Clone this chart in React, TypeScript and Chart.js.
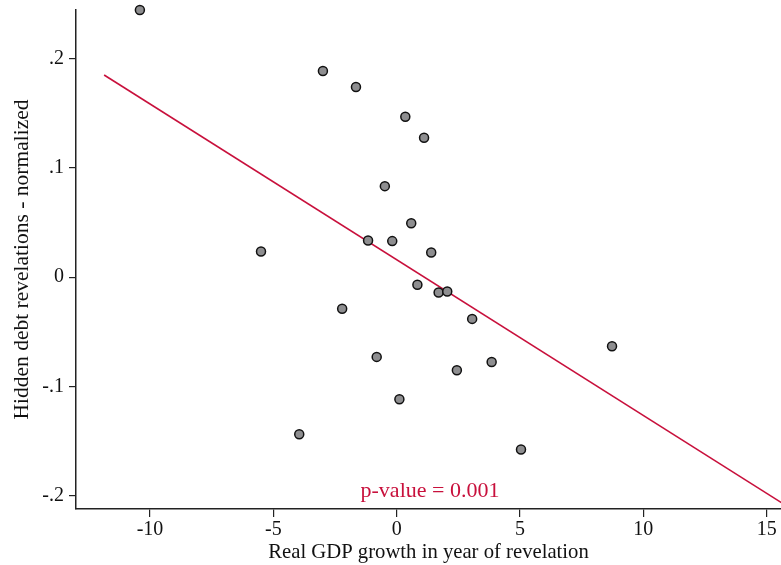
import React, { useEffect, useRef } from "react";
import { Chart, registerables } from "chart.js";

Chart.register(...registerables);

const gdpGrowth = [-10.41, -2.99, -1.65, 0.35, 1.11, -0.48, 0.59, -1.16, -0.18, 1.40, -5.50, 0.84, 1.70, 2.05, 3.06, -2.21, -0.81, 2.44, 3.85, 0.11, -3.95, 5.04, 8.73];
const hiddenDebt = [0.2445, 0.1886, 0.1740, 0.1468, 0.1275, 0.0833, 0.0494, 0.0336, 0.0330, 0.0226, 0.0235, -0.0070, -0.0140, -0.0131, -0.0382, -0.0290, -0.0730, -0.0852, -0.0776, -0.1117, -0.1438, -0.1578, -0.0632];
const fitX = [-11.86, 15.6];
const fitY = [0.185, -0.2064];
const xTicks = [-10, -5, 0, 5, 10, 15];
const yTicks = [-0.2, -0.1, 0, 0.1, 0.2];
const yTickLabels = ["-.2", "-.1", "0", ".1", ".2"];
const annotationText = "p-value = 0.001";
const annotationPos = { x: 1.35, y: -0.196 };

const FONT = "'Liberation Serif', 'Times New Roman', serif";
const RED = "#c8103c";

export default function App() {
  const ref = useRef<HTMLCanvasElement | null>(null);
  useEffect(() => {
    document.body.style.margin = "0";
    const ctx = ref.current!;
    const annot = {
      id: "annot",
      afterDatasetsDraw(chart: any) {
        const c = chart.ctx;
        const xs = chart.scales.x;
        const ys = chart.scales.y;
        c.save();
        c.font = `22px ${FONT}`;
        c.fillStyle = RED;
        c.textAlign = "center";
        c.textBaseline = "middle";
        c.fillText(annotationText, xs.getPixelForValue(annotationPos.x), ys.getPixelForValue(annotationPos.y));
        c.restore();
      },
    };
    const chart = new Chart(ctx, {
      type: "scatter",
      data: {
        datasets: [
          {
            type: "line",
            data: fitX.map((x, i) => ({ x, y: fitY[i] })),
            borderColor: RED,
            borderWidth: 1.6,
            pointRadius: 0,
            fill: false,
            order: 2,
          } as any,
          {
            data: gdpGrowth.map((x, i) => ({ x, y: hiddenDebt[i] })),
            backgroundColor: "#8e8e90",
            borderColor: "#111",
            borderWidth: 1.5,
            pointRadius: 4.5,
            clip: false,
            order: 1,
          } as any,
        ],
      },
      options: {
        animation: false,
        responsive: false,
        maintainAspectRatio: false,
        layout: { padding: { top: 10, right: 0, left: 0, bottom: 0 } },
        plugins: { legend: { display: false }, tooltip: { enabled: false } },
        scales: {
          x: {
            type: "linear",
            min: -13,
            max: 15.58,
            afterBuildTicks: (s: any) => {
              s.ticks = xTicks.map((v) => ({ value: v }));
            },
            afterFit: (s: any) => {
              s.height = 56;
            },
            grid: { drawOnChartArea: false, drawTicks: true, tickLength: 8, color: "#222", lineWidth: 1.2 },
            border: { display: true, color: "#222", width: 1.5 },
            ticks: { color: "#111", font: { family: FONT, size: 20 }, padding: 1, maxRotation: 0, autoSkip: false },
            title: {
              display: true,
              text: "Real GDP growth in year of revelation",
              color: "#111",
              font: { family: FONT, size: 20.7 },
              padding: { top: 0, bottom: 0 },
            },
          },
          y: {
            type: "linear",
            min: -0.2122,
            max: 0.2445,
            afterBuildTicks: (s: any) => {
              s.ticks = yTicks.map((v) => ({ value: v }));
            },
            afterFit: (s: any) => {
              s.width = 76;
              s.paddingTop = 0;
              s.paddingBottom = 0;
            },
            grid: { drawOnChartArea: false, drawTicks: true, tickLength: 7, color: "#222", lineWidth: 1.2 },
            border: { display: true, color: "#222", width: 1.5 },
            ticks: {
              color: "#111",
              font: { family: FONT, size: 20 },
              padding: 5,
              autoSkip: false,
              callback: (v: any) => {
                const i = yTicks.findIndex((t) => Math.abs(t - Number(v)) < 1e-9);
                return i >= 0 ? yTickLabels[i] : "";
              },
            },
            title: {
              display: true,
              text: "Hidden debt revelations - normalized",
              color: "#111",
              font: { family: FONT, size: 21.5 },
              padding: { top: 9, bottom: 0 },
            },
          },
        },
      },
      plugins: [annot],
    });
    return () => chart.destroy();
  }, []);
  return (
    <div style={{ position: "absolute", left: 0, top: 0, width: 781, height: 565, overflow: "hidden" }}>
      <canvas ref={ref} width={787} height={565} style={{ width: 787, height: 565 }} />
    </div>
  );
}
